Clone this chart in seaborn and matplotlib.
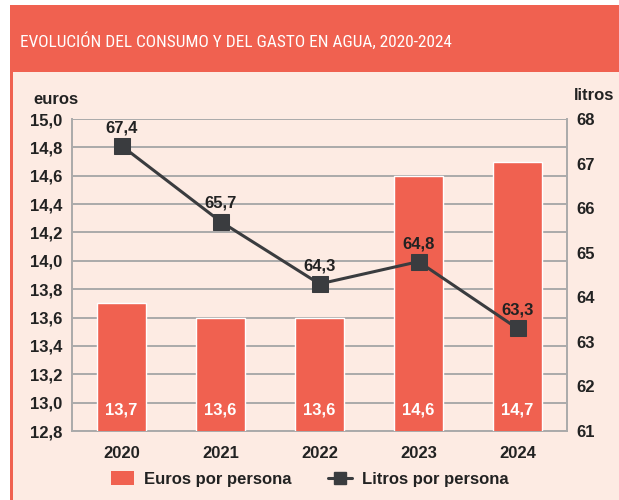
import matplotlib
matplotlib.use("Agg")
import matplotlib.pyplot as plt
import matplotlib.patches as mpatches
from matplotlib.lines import Line2D
import seaborn as sns
import pandas as pd

years = ["2020", "2021", "2022", "2023", "2024"]
euros = [13.7, 13.6, 13.6, 14.6, 14.7]
litros = [67.4, 65.7, 64.3, 64.8, 63.3]
euro_labels = ["13,7", "13,6", "13,6", "14,6", "14,7"]
litro_labels = ["67,4", "65,7", "64,3", "64,8", "63,3"]
left_ticks = [12.8, 13.0, 13.2, 13.4, 13.6, 13.8, 14.0, 14.2, 14.4, 14.6, 14.8, 15.0]
right_ticks = [61, 62, 63, 64, 65, 66, 67, 68]

RED = "#F06150"
BG = "#FDEBE3"
DARK = "#3A3C3F"
GRID = "#AAAAAA"
TXT = "#222222"

sns.set_style("white")
plt.rcParams['font.family'] = ['Liberation Sans', 'DejaVu Sans']

df = pd.DataFrame({"year": years, "euros": euros, "litros": litros})

W, H = 619, 500
fig = plt.figure(figsize=(W / 100, H / 100), dpi=100)
fig.patch.set_facecolor("white")

# frame: cream panel with red left border and red header
fig.add_artist(mpatches.Rectangle((10 / W, 0), 1, (H - 5) / H, transform=fig.transFigure,
                                  facecolor=BG, edgecolor="none", zorder=-10))
fig.add_artist(mpatches.Rectangle((10 / W, 0), 3 / W, (H - 5) / H, transform=fig.transFigure,
                                  facecolor=RED, edgecolor="none", zorder=-9))
fig.add_artist(mpatches.Rectangle((10 / W, (H - 72) / H), 1, 67 / H, transform=fig.transFigure,
                                  facecolor=RED, edgecolor="none", zorder=-9))
fig.text(20 / W, (H - 41) / H, "EVOLUCIÓN DEL CONSUMO Y DEL GASTO EN AGUA, 2020-2024",
         color="white", fontsize=12.4, va="center", ha="left",
         family=['Roboto Condensed', 'Liberation Sans', 'DejaVu Sans'])

ax = fig.add_axes([72 / W, (H - 431) / H, 495 / W, 312 / H])
ax.set_facecolor("none")
sns.barplot(data=df, x="year", y="euros", color=RED, width=0.485, ax=ax,
            saturation=1, zorder=3)
ax.set_ylim(12.8, 15.0)
ax.set_xlim(-0.5, 4.5)
ax.set_yticks(left_ticks)
ax.set_yticklabels([f"{v:.1f}".replace(".", ",") for v in left_ticks])
ax.grid(axis="y", color=GRID, linewidth=1.4, zorder=0)
ax.set_axisbelow(True)
ax.set_xlabel("")
ax.set_ylabel("")
for s in ax.spines.values():
    s.set_color(GRID)
    s.set_linewidth(1.4)
ax.spines["top"].set_visible(False)
ax.tick_params(axis="both", length=0, labelsize=12, labelcolor=TXT)
ax.tick_params(axis="y", pad=7)
ax.tick_params(axis="x", pad=11)
for lab in ax.get_xticklabels() + ax.get_yticklabels():
    lab.set_fontweight("bold")

for i, t in enumerate(euro_labels):
    ax.text(i, 12.95, t, color="white", fontsize=12, fontweight="bold",
            ha="center", va="center", zorder=5)

ax2 = ax.twinx()
sns.lineplot(x=list(range(len(years))), y=litros, ax=ax2, color=DARK, linewidth=2.2,
             marker="s", markersize=11, markeredgecolor=DARK, zorder=4)
ax2.set_ylim(61, 68)
ax2.set_yticks(right_ticks)
ax2.set_yticklabels([str(v) for v in right_ticks])
ax2.tick_params(axis="y", length=0, labelsize=12, labelcolor=TXT, pad=7)
for lab in ax2.get_yticklabels():
    lab.set_fontweight("bold")
for s in ax2.spines.values():
    s.set_visible(False)
ax2.set_ylabel("")
for i, t in enumerate(litro_labels):
    ax2.annotate(t, (i, litros[i]), xytext=(0, 13), textcoords="offset points",
                 ha="center", va="center", fontsize=12, fontweight="bold", color=TXT)

fig.text(33 / W, (H - 100) / H, "euros", fontsize=12, fontweight="bold", color=TXT,
         ha="left", va="center")
fig.text(614 / W, (H - 96) / H, "litros", fontsize=12, fontweight="bold", color=TXT,
         ha="right", va="center")

handles = [mpatches.Patch(facecolor=RED, edgecolor="none"),
           Line2D([0], [0], color=DARK, linewidth=2.2, marker="s", markersize=9)]
leg = fig.legend(handles, ["Euros por persona", "Litros por persona"], loc="center",
                 bbox_to_anchor=(0.5, (H - 479) / H), ncol=2, frameon=False,
                 prop={"weight": "bold", "size": 12}, handlelength=1.4,
                 handleheight=0.9, columnspacing=2.2, handletextpad=0.6)
for t in leg.get_texts():
    t.set_color(TXT)

fig.savefig("out.png", dpi=100)
